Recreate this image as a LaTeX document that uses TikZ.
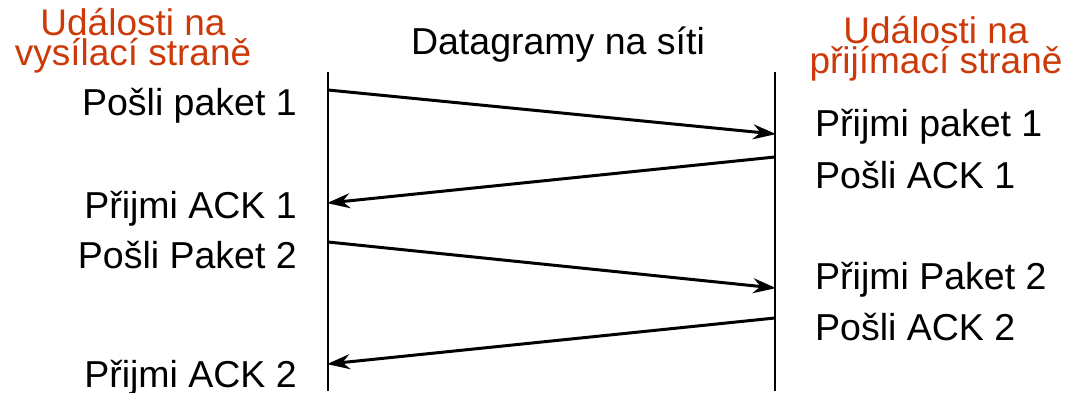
\documentclass[tikz,border=0pt]{standalone}
\usepackage{fontspec}
\setmainfont{Liberation Sans}
\usetikzlibrary{arrows.meta}
\definecolor{titlered}{RGB}{205,58,10}
\begin{document}
\begin{tikzpicture}[x=1pt,y=-1pt,
  lbl/.style={inner sep=0pt,font=\fontsize{37.5}{38}\selectfont},
  ttl/.style={inner sep=0pt,align=center,text=titlered,font=\fontsize{37}{30}\selectfont},
  tline/.style={line width=1.6pt},
  msg/.style={line width=3pt,-{Stealth[length=23pt,width=15pt]},shorten >=-1pt}]
\useasboundingbox (0,0) rectangle (1068,393);
% time lines
\coordinate (Ltop) at (328,72);
\coordinate (Lbot) at (328,391);
\coordinate (Rtop) at (775,72);
\coordinate (Rbot) at (775,391);
\draw[tline] (Ltop) -- (Lbot);
\draw[tline] (Rtop) -- (Rbot);
% titles
\node[ttl,anchor=base] (tl) at (133,66) {Události na\\vysílací straně};
\node[ttl,anchor=base] (tr) at (936,74) {Události na\\přijímací straně};
\node[lbl,anchor=base] (tm) at (558,55) {Datagramy na síti};
% message endpoints
\coordinate (s1) at (328,90);
\coordinate (r1) at (775,134);
\coordinate (r2) at (775,157);
\coordinate (s2) at (328,203);
\coordinate (s3) at (328,242);
\coordinate (r3) at (775,288);
\coordinate (r4) at (775,318);
\coordinate (s4) at (328,364);
\draw[msg] (s1) -- (r1);
\draw[msg] (r2) -- (s2);
\draw[msg] (s3) -- (r3);
\draw[msg] (r4) -- (s4);
% left labels
\node[lbl,anchor=base east] (l1) at (297,116) {Pošli paket 1};
\node[lbl,anchor=base east] (l2) at (297,218) {Přijmi ACK 1};
\node[lbl,anchor=base east] (l3) at (297,268) {Pošli Paket 2};
\node[lbl,anchor=base east] (l4) at (297,387) {Přijmi ACK 2};
% right labels
\node[lbl,anchor=base west] (r1l) at (815,137) {Přijmi paket 1};
\node[lbl,anchor=base west] (r2l) at (815,188) {Pošli ACK 1};
\node[lbl,anchor=base west] (r3l) at (815,289) {Přijmi Paket 2};
\node[lbl,anchor=base west] (r4l) at (815,340) {Pošli ACK 2};
\end{tikzpicture}
\end{document}
